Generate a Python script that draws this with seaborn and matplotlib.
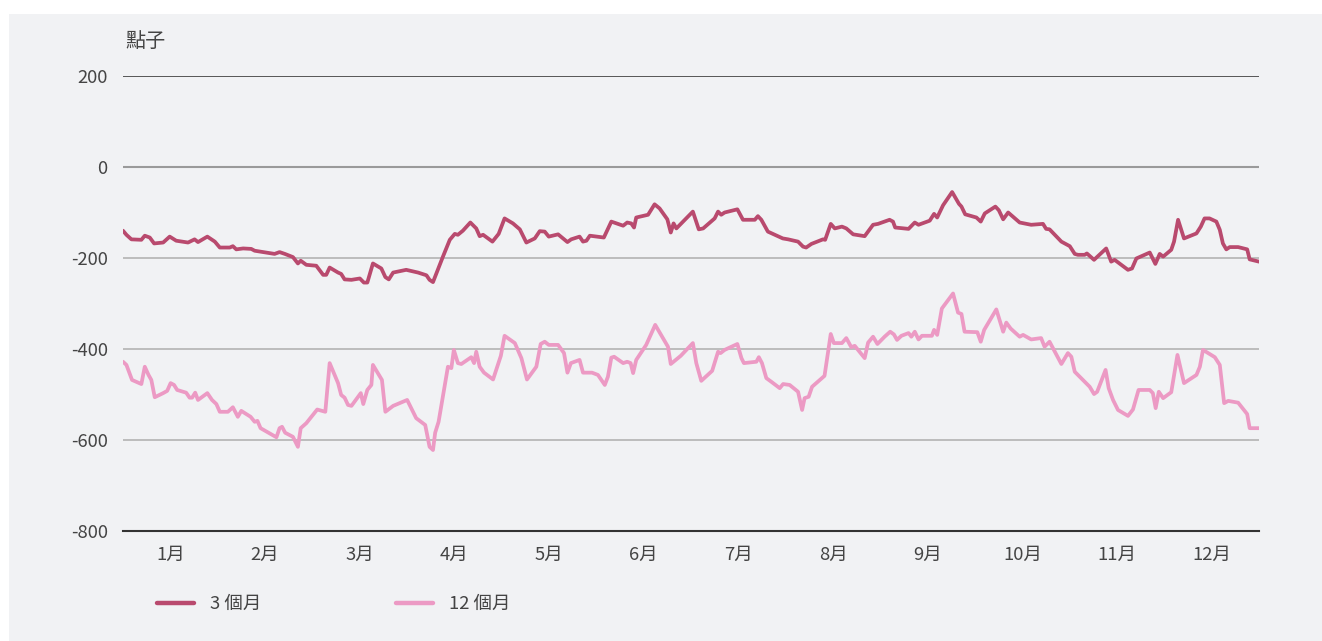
import matplotlib
matplotlib.use("Agg")
import matplotlib.pyplot as plt
import matplotlib.patches as mpatches
from matplotlib.lines import Line2D
import seaborn as sns
import numpy as np
import pandas as pd

# day-of-year positions and spread values (points)
days_3m = [0, 1.1, 2.7, 5.9, 7.0, 8.6, 10.0, 12.9, 15.0, 17.1, 20.9, 23.0, 24.1, 27.1, 29.5,
           31.1, 34.3, 35.3, 36.4, 38.6, 41.2, 42.3, 48.7, 50.3, 52.0, 54.6, 56.2, 57.1, 58.9,
           62.1, 64.3, 65.3, 66.4, 69.1, 70.1, 71.2, 73.4, 76.1, 77.4, 78.5, 80.3, 83.0, 84.3,
           85.4, 86.8, 91.0, 94.8, 97.5, 98.5, 99.6, 102.8, 105.0, 106.6, 107.6, 109.2, 111.6,
           113.5, 114.6, 115.7, 118.7, 120.7, 122.6, 125.3, 127.5, 129.6, 132.3, 133.9, 135.5,
           136.8, 139.8, 142.8, 144.0, 146.7, 147.8, 148.9, 150.0, 154.5, 156.9, 160.7, 162.0,
           163.3, 164.2, 164.9, 168.7, 170.8, 172.4, 174.9, 176.0, 176.9, 177.8, 183.1, 185.0,
           186.4, 190.1, 191.2, 192.2, 193.3, 197.4, 199.2, 203.0, 204.0, 205.1, 207.2, 210.4,
           212.0, 213.7, 216.9, 218.5, 219.5, 221.2, 224.9, 225.6, 227.4, 228.7, 231.0, 232.4,
           234.6, 238.3, 241.0, 242.6, 246.3, 247.4, 248.1, 252.4, 254.4, 255.6, 259.2, 260.6,
           261.6, 263.5, 266.4, 268.6, 269.4, 270.6, 274.2, 275.6, 276.9, 280.3, 281.4, 282.8,
           284.4, 288.1, 291.8, 295.6, 296.6, 297.7, 301.5, 304.2, 305.8, 306.8, 309.0, 309.7,
           312.0, 315.9, 317.5, 318.6, 321.3, 322.9, 324.2, 325.6, 329.9, 331.7, 333.1, 334.2,
           336.8, 337.7, 339.0, 340.9, 344.9, 346.3, 347.5, 349.1, 351.3, 352.4, 353.4, 354.5,
           355.6, 358.3, 361.2, 362.0, 365.0]
values_3m = [-140, -149, -159, -160, -151, -155, -168, -166, -153, -162, -166, -159, -165, -153, -164,
             -177, -177, -174, -181, -179, -180, -184, -191, -187, -191, -198, -212, -206, -215,
             -217, -237, -237, -221, -232, -235, -247, -248, -245, -254, -254, -212, -223, -242,
             -247, -232, -226, -232, -238, -248, -253, -197, -160, -147, -149, -140, -122,
             -135, -152, -149, -164, -147, -113, -124, -137, -166, -157, -141, -142,
             -153, -148, -165, -159, -153, -164, -162, -151, -155, -120, -129, -122,
             -124, -133, -111, -105, -82, -91, -115, -144, -124, -135, -98, -137,
             -135, -113, -98, -105, -100, -93, -116, -116, -108, -116, -142, -152,
             -157, -159, -164, -175, -177, -169, -159, -160, -125, -135, -131, -135,
             -148, -152, -127, -125, -116, -120, -133, -136, -122, -127, -118, -103,
             -111, -84, -55, -81, -87, -104, -111, -120, -102, -87, -95, -115,
             -100, -122, -127, -125, -136, -137, -164, -174, -191, -193, -193, -190,
             -204, -179, -208, -204, -218, -226, -223, -201, -188, -213, -191, -197,
             -182, -164, -116, -157, -146, -131, -113, -113, -120, -138, -168, -181,
             -176, -176, -181, -203, -208]

days_12m = [0, 1.1, 2.9, 5.9, 7.0, 8.2, 9.1, 10.2, 12.9, 14.2, 15.3, 16.4, 17.4, 20.3, 21.4, 22.2,
            23.2, 24.1, 27.1, 28.6, 30.0, 31.1, 33.7, 35.3, 36.9, 38.0, 41.0, 42.3, 43.2, 44.2,
            49.3, 50.3, 51.1, 52.1, 54.6, 56.2, 57.1, 58.9, 62.4, 65.0, 66.4, 69.1, 70.1, 71.2,
            72.3, 73.4, 76.4, 77.2, 78.5, 79.8, 80.3, 83.2, 84.3, 86.8, 91.3, 94.2, 97.1, 98.5,
            99.6, 100.3, 101.4, 104.4, 105.5, 106.3, 107.6, 108.7, 111.9, 112.8, 113.5, 114.6,
            116.0, 118.9, 121.4, 122.6, 125.9, 128.0, 129.8, 132.8, 134.2, 135.5, 136.8, 139.8,
            141.7, 142.8, 143.9, 146.7, 147.8, 150.7, 152.6, 154.8, 155.8, 156.9, 157.8, 160.7,
            162.0, 163.1, 163.9, 164.9, 168.1, 171.0, 175.1, 176.0, 179.2, 183.1, 184.2, 185.8,
            189.3, 190.1, 191.2, 192.0, 193.3, 197.4, 198.7, 199.5, 203.5, 204.3, 205.3, 206.7,
            208.3, 211.0, 212.1, 214.2, 216.9, 218.2, 219.0, 220.3, 221.4, 225.4, 227.4, 228.4,
            231.0, 232.4, 234.0, 235.1, 238.3, 239.4, 241.0, 242.4, 244.7, 246.5, 247.7, 248.7,
            250.1, 252.4, 253.3, 254.4, 255.6, 256.7, 259.9, 260.6, 261.6, 263.1, 266.7, 268.3,
            269.4, 270.4, 274.5, 275.6, 276.7, 280.6, 282.8, 283.8, 285.2, 288.1, 289.2, 291.8,
            295.0, 296.1, 297.7, 301.5, 303.6, 304.7, 305.8, 310.6, 312.0, 313.0, 315.7, 316.7,
            318.1, 319.7, 322.9, 324.5, 326.3, 329.9, 330.9, 331.8, 332.8, 334.2, 336.8, 338.8,
            340.9, 344.9, 346.0, 347.0, 350.8, 352.4, 353.8, 355.1, 358.3, 361.2, 362.0, 365.0]
values_12m = [-428, -435, -468, -477, -439, -457, -468, -506, -497, -492, -475, -479, -490, -496, -507, -507,
              -496, -512, -497, -512, -521, -538, -538, -528, -549, -536, -549, -560, -558, -574,
              -594, -574, -571, -584, -593, -615, -574, -563, -533, -538, -431, -475, -501, -507,
              -523, -525, -497, -521, -490, -479, -435, -468, -538, -525, -512, -552, -567, -615,
              -622, -584, -560, -439, -442, -402, -431, -433, -418, -431, -406, -439,
              -452, -467, -415, -371, -387, -420, -467, -439, -389, -384, -391, -391,
              -409, -452, -431, -424, -452, -452, -457, -479, -461, -419, -417, -431,
              -428, -431, -453, -424, -391, -347, -395, -433, -415, -387, -431, -470,
              -448, -430, -406, -409, -402, -389, -420, -431, -428, -418, -431, -464,
              -472, -486, -477, -479, -494, -534, -508, -505, -483, -459, -367, -387,
              -387, -376, -396, -393, -420, -386, -373, -389, -373, -362, -368, -380,
              -371, -365, -373, -362, -379, -371, -371, -358, -369, -311, -278, -320,
              -323, -362, -363, -384, -358, -313, -362, -342, -355, -373, -369, -379,
              -376, -395, -384, -433, -409, -417, -450, -483, -499, -494, -446, -486,
              -512, -534, -547, -533, -490, -490, -497, -530, -494, -508, -495, -413,
              -475, -457, -439, -402, -418, -435, -519, -514, -518, -543, -574, -574]

month_labels = ["1月", "2月", "3月", "4月", "5月", "6月", "7月", "8月", "9月", "10月", "11月", "12月"]
y_ticks = [-800, -600, -400, -200, 0, 200]
series_names = ["3 個月", "12 個月"]
series_colors = ["#b94a6e", "#ec9ac4"]

df = pd.concat([
    pd.DataFrame({"day": days_3m, "value": values_3m, "series": series_names[0]}),
    pd.DataFrame({"day": days_12m, "value": values_12m, "series": series_names[1]}),
])

sns.set_theme(style="white")
plt.rcParams['font.family'] = ['Noto Sans CJK TC', 'DejaVu Sans']
plt.rcParams['axes.unicode_minus'] = False

W, H = 1322, 641
fig = plt.figure(figsize=(W / 100, H / 100), dpi=100, facecolor="white")
bg = "#f1f2f4"
fig.patches.append(mpatches.Rectangle((9 / W, 0), 1, 1 - 14 / H, transform=fig.transFigure,
                                      facecolor=bg, edgecolor="none", zorder=-10))

ax = fig.add_axes([123 / W, 1 - 531 / H, (1259 - 123) / W, (531 - 76) / H])
ax.set_facecolor(bg)
ax.patch.set_alpha(0)

# horizontal reference lines
for yv in y_ticks[1:]:
    if yv == 200:
        c, lw = "#4a4a4a", 1.3
    elif yv == 0:
        c, lw = "#9a9a9a", 1.5
    else:
        c, lw = "#bcbcbc", 1.4
    ax.axhline(yv, color=c, lw=lw, zorder=1)

sns.lineplot(data=df, x="day", y="value", hue="series", palette=series_colors,
             hue_order=series_names, sort=False, estimator=None, lw=2.7,
             legend=False, ax=ax, zorder=3)

ax.set_xlim(0, 365)
ax.set_ylim(-800, 200)
for s in ["top", "right", "left"]:
    ax.spines[s].set_visible(False)
ax.spines["bottom"].set_color("#333333")
ax.spines["bottom"].set_linewidth(1.5)

lbl_size = 13.3
ax.set_yticks(y_ticks)
ax.set_yticklabels([str(v) for v in y_ticks])
ax.tick_params(axis="y", length=0, pad=11, labelsize=lbl_size, labelcolor="#444444")

month_edges = np.arange(13) * 365 / 12
ax.set_xticks(month_edges)
ax.set_xticklabels([])
ax.set_xticks((month_edges[:-1] + month_edges[1:]) / 2, minor=True)
ax.set_xticklabels(month_labels, minor=True)
ax.tick_params(axis="x", which="major", length=5, width=1.3, color="#333333", direction="out")
ax.tick_params(axis="x", which="minor", length=0, pad=11, labelsize=lbl_size, labelcolor="#444444")
ax.set_xlabel("")
ax.set_ylabel("")

fig.text(125 / W, 1 - 41 / H, "點子", fontsize=14.5, color="#444444", va="center", ha="left")

handles = [Line2D([0], [0], color=c, lw=3.2, solid_capstyle="round") for c in series_colors]
fig.legend(handles, series_names, loc="center left", bbox_to_anchor=(157 / W, 1 - 604 / H),
           ncol=2, frameon=False, fontsize=lbl_size, handlelength=2.0, handletextpad=0.85,
           columnspacing=7.3, borderpad=0, borderaxespad=0, labelcolor="#444444")

fig.savefig("out.png", dpi=100, facecolor="white")
